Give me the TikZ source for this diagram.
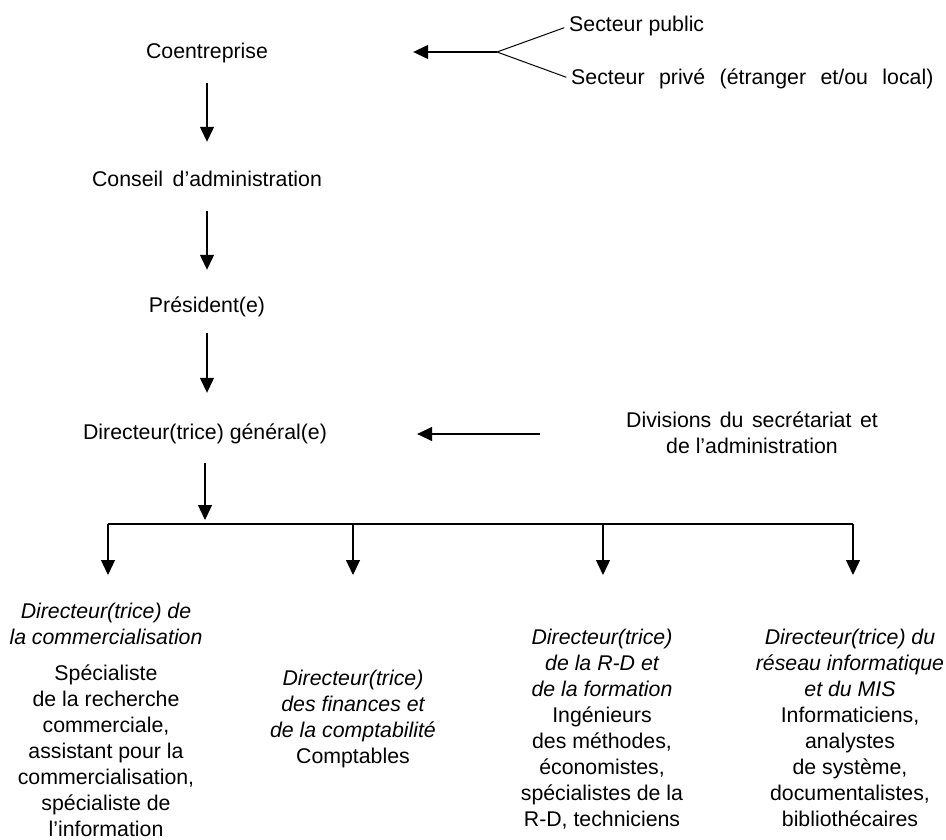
\documentclass[tikz,border=0pt]{standalone}
\usepackage{fontspec}
\setmainfont{Liberation Sans}
\usetikzlibrary{arrows.meta}
\begin{document}
\begin{tikzpicture}[x=1pt,y=-1pt,
  every node/.style={inner sep=0pt, font=\fontsize{21.3}{26}\selectfont},
  lbl/.style={text height=15.5pt, text depth=4.5pt},
  col/.style={align=center, anchor=north},
  arr/.style={line width=1.3pt, -{Triangle[length=15pt,width=14pt]}},
  thinline/.style={line width=1pt},
  barline/.style={line width=1.4pt}]
\useasboundingbox (0,0) rectangle (946,840);

% main chain
\node[lbl] (coent) at (207,53) {Coentreprise};
\node[lbl] (conseil) at (207,181) {\spaceskip=0.45em Conseil d’administration};
\node[lbl] (pres) at (207,307) {Président(e)};
\node[lbl] (dg) at (205,434) {Directeur(trice) général(e)};

% sectors
\node[lbl,anchor=west] (secpub) at (569,26) {Secteur public};
\node[lbl,anchor=west] (secpriv) at (571,79) {\spaceskip=0.68em Secteur privé (étranger et/ou local)};
\coordinate (fork) at (497,52);
\draw[thinline,shorten >=5pt] (fork) -- (secpub.west);
\draw[thinline,shorten >=5pt] (fork) -- (secpriv.west);
\draw[arr,shorten >=145pt] (fork) -- (fork -| coent.east);

% divisions
\node[col] (div) at (752,409) {\spaceskip=0.4em\strut Divisions du secrétariat et\\de l’administration};
\draw[arr,shorten <=86pt,shorten >=90pt] (div.west |- dg) -- (dg.east);

% vertical arrows
\draw[arr] ([yshift=-20pt]coent.south) -- ([yshift=29pt]conseil.north);
\draw[arr] ([yshift=-20pt]conseil.south) -- ([yshift=27pt]pres.north);
\draw[arr] ([yshift=-16pt]pres.south) -- ([yshift=31pt]pres.south |- dg.north);

% bar
\coordinate (b1) at (108,524);
\coordinate (b2) at (353,524);
\coordinate (b3) at (603,524);
\coordinate (b4) at (853,524);
\coordinate (bm) at (205,524);
\draw[barline] (b1) -- (b4);
\draw[arr,shorten >=4pt] ([yshift=-19pt]dg.south) -- (bm);

% columns
\node[col] (c1) at (106,600) {\strut{\itshape Directeur(trice) de}\\{\itshape la commercialisation}\\[10pt]Spécialiste\\de la recherche\\commerciale,\\assistant pour la\\commercialisation,\\spécialiste de\\l’information};
\node[col] (c2) at (353,667) {\strut{\itshape Directeur(trice)}\\{\itshape des finances et}\\{\itshape de la comptabilité}\\Comptables};
\node[col] (c3) at (602,626) {\strut{\itshape Directeur(trice)}\\{\itshape de la R-D et}\\{\itshape de la formation}\\Ingénieurs\\des méthodes,\\économistes,\\spécialistes de la\\R-D, techniciens};
\node[col] (c4) at (850,626) {\strut{\itshape Directeur(trice) du}\\{\itshape réseau informatique}\\{\itshape et du MIS}\\Informaticiens,\\analystes\\de système,\\documentalistes,\\bibliothécaires};

\draw[arr,shorten >=25pt] (b1) -- (b1 |- c1.north);
\draw[arr,shorten >=92pt] (b2) -- (b2 |- c2.north);
\draw[arr,shorten >=51pt] (b3) -- (b3 |- c3.north);
\draw[arr,shorten >=51pt] (b4) -- (b4 |- c4.north);
\end{tikzpicture}
\end{document}
